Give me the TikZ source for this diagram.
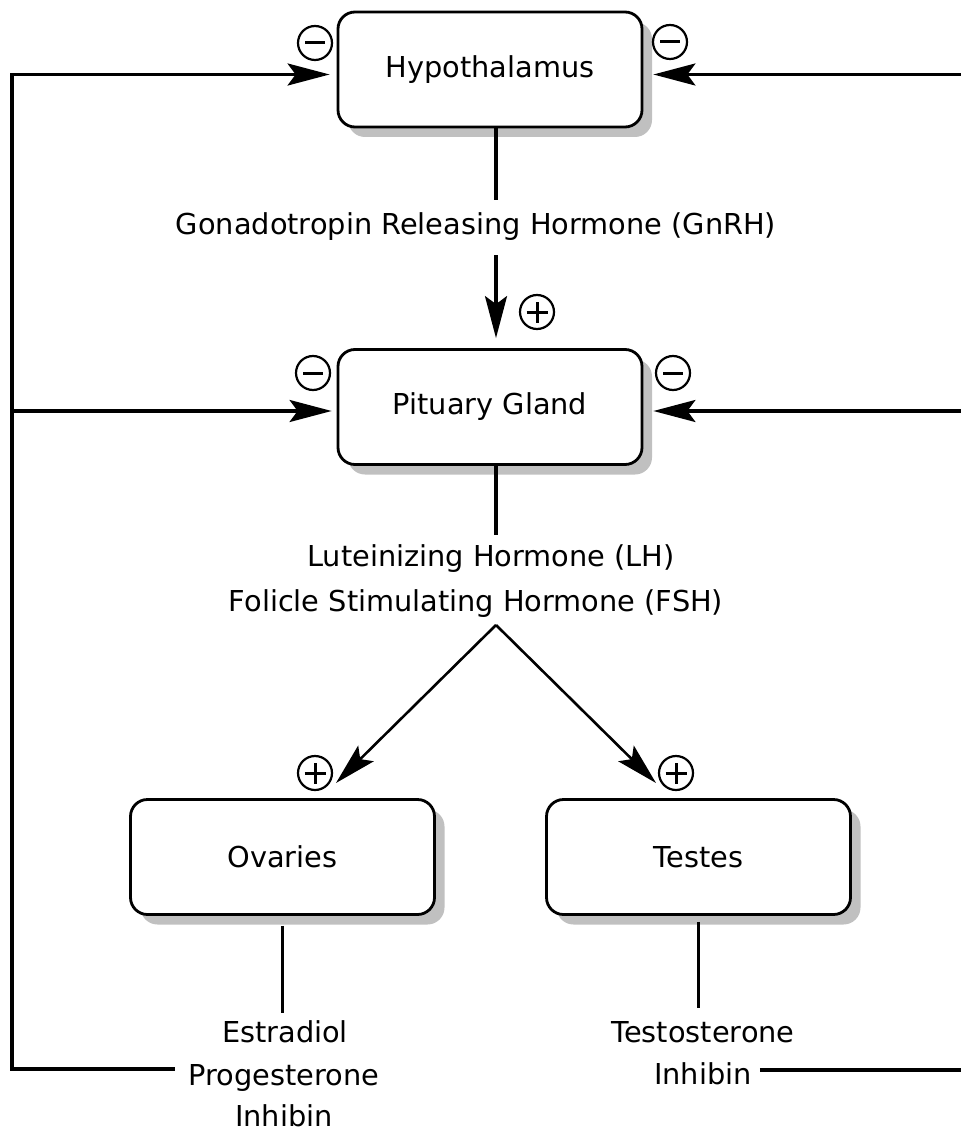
\documentclass[tikz,border=0pt]{standalone}
\usepackage{fontspec}
\setmainfont{DejaVu Sans}
\usetikzlibrary{arrows.meta,shadows}
\definecolor{shadowgray}{HTML}{C0C0C0}
\begin{document}
\begin{tikzpicture}[x=1pt,y=-1pt,
  font=\fontsize{28.8}{34}\selectfont,
  box/.style={draw, line width=2.8pt, rounded corners=17pt, fill=white,
    minimum width=304pt, minimum height=115pt, inner sep=0pt,
    drop shadow={shadow xshift=10pt, shadow yshift=-10pt, fill=shadowgray, opacity=1}},
  txt/.style={anchor=base, inner xsep=0pt, inner ysep=8pt, text height=21pt, text depth=6pt},
  conn/.style={line width=3.2pt},
  tip/.style={-{Stealth[length=42pt,width=22pt,inset=8pt]}},
  fb/.style={conn, tip},
  diag/.style={line width=2.6pt, tip},
  sign/.style={circle, draw, line width=2.2pt, minimum size=34pt, inner sep=0pt},
  bar/.style={line width=3pt}
]
\useasboundingbox (0,0) rectangle (960,1131);

% boxes
\node[box] (hyp) at (490,69.5) {Hypothalamus};
\node[box] (pit) at (490,407) {Pituary Gland};
\node[box] (ova) at (282.5,857) {Ovaries};
\node[box] (tes) at (698.5,857) {Testes};

% column / side coordinates
\coordinate (c1) at (496,0);
\coordinate (L) at (12,0);
\coordinate (R) at (966,0);
\coordinate (apex) at (496,625);
\coordinate (tipL) at (336,783);
\coordinate (tipR) at (656,783);

% text nodes
\node[txt, inner ysep=14pt] (g) at (476,235) {Gonadotropin Releasing Hormone (GnRH)};
\node[txt, inner ysep=10pt] (lh1) at (491,566) {Luteinizing Hormone (LH)};
\node[txt] (lh2) at (476,611) {Folicle Stimulating Hormone (FSH)};
\node[txt] (es) at (285,1042) {Estradiol};
\node[txt, inner xsep=14pt] (prog) at (284,1085) {Progesterone};
\node[txt] (inh1) at (284,1126) {Inhibin};
\node[txt, inner ysep=13pt] (tst) at (703,1042) {Testosterone};
\node[txt, inner xsep=8pt] (inh2) at (703,1084) {Inhibin};

% main chain
\draw[conn] (hyp.south -| c1) -- (g.north -| c1);
\draw[fb, shorten >=10pt] (g.south -| c1) -- (pit.north -| c1);
\draw[conn] (pit.south -| c1) -- (lh1.north -| c1);
\draw[diag] (apex) -- (tipL);
\draw[diag] (apex) -- (tipR);
\draw[conn] ([yshift=-10pt]ova.south) -- (es.north -| ova.south);
\draw[conn] ([yshift=-6pt]tes.south) -- (tst.north -| tes.south);

% feedback left
\draw[fb, shorten >=7pt] ([yshift=16pt]prog.base west) -| ([yshift=-5pt]hyp.west -| L) -- ([yshift=-5pt]hyp.west);
\draw[fb, shorten >=5pt] ([yshift=-4pt]pit.west -| L) -- ([yshift=-4pt]pit.west);

% feedback right
\draw[fb, shorten >=10pt] ([yshift=14pt]inh2.base east) -| ([yshift=-5pt]hyp.east -| R) -- ([yshift=-5pt]hyp.east);
\draw[fb, shorten >=10pt] ([yshift=-4pt]pit.east -| R) -- ([yshift=-4pt]pit.east);

% signs
\foreach \n/\x/\y in {m1/315/43, m2/670/42, m3/313/373, m4/673/373}{
  \node[sign] (\n) at (\x,\y) {};
  \draw[bar] ([xshift=-10pt]\n.center) -- ([xshift=10pt]\n.center);
}
\foreach \n/\x/\y in {p1/537/312, p2/315/773, p3/676/773}{
  \node[sign] (\n) at (\x,\y) {};
  \draw[bar] ([xshift=-10.5pt]\n.center) -- ([xshift=10.5pt]\n.center);
  \draw[bar] ([yshift=-10.5pt]\n.center) -- ([yshift=10.5pt]\n.center);
}
\end{tikzpicture}
\end{document}
